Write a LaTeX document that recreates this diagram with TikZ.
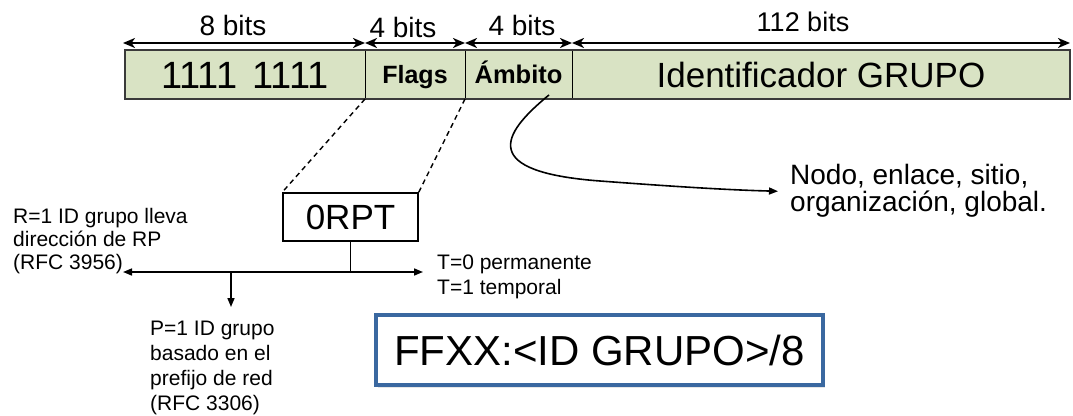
\documentclass[tikz,border=0pt]{standalone}
\usepackage{fontspec}
\setmainfont{Liberation Sans}
\usetikzlibrary{arrows.meta,calc,shadows}

\definecolor{fieldgreen}{HTML}{D9E3C4}
\definecolor{framegray}{HTML}{3A3A3A}
\definecolor{boxblue}{HTML}{3A68A0}

\tikzset{
  field/.style={draw=black, line width=1pt, fill=fieldgreen, minimum height=49pt,
    inner sep=0pt, outer sep=0pt, anchor=center, text depth=0pt},
  barframe/.style={draw=framegray, line width=2.2pt},
  dimline/.style={line width=2.4pt, {Stealth[length=12pt,width=10pt,inset=3.5pt]}-{Stealth[length=12pt,width=10pt,inset=3.5pt]}},
  dimlabel/.style={font=\fontsize{28}{30}\selectfont, inner sep=0pt},
  note/.style={align=left, inner sep=0pt, anchor=north west},
  zoomline/.style={line width=1.4pt, dash pattern=on 5pt off 4pt},
  flagline/.style={line width=1.6pt},
  flagarrow/.style={line width=1.6pt, -{Triangle[length=9pt,width=7pt]}},
}

\begin{document}
\begin{tikzpicture}[x=1pt,y=-1pt]
\useasboundingbox (0,0) rectangle (1073,415);

% address fields
\node[field, minimum width=240pt, text height=27pt, font=\fontsize{38}{42}\selectfont] (f1) at (245,74.5) {1111\hspace{0.4em}1111};
\node[field, minimum width=100pt, text height=18.6pt, font=\bfseries\fontsize{25}{28}\selectfont] (f2) at (415,74.5) {Flags};
\node[field, minimum width=107pt, text height=18.6pt, font=\bfseries\fontsize{25.5}{28}\selectfont] (f3) at (518.5,74.5) {Ámbito};
\node[field, minimum width=498pt, text height=25pt, font=\fontsize{35}{40}\selectfont] (f4) at (821,74.5) {Identificador GRUPO};
\draw[barframe] (f1.north west) rectangle (f4.south east);

% bit widths
\coordinate (d0) at (123,43);
\coordinate (d1) at (365,43);
\coordinate (d2) at (465,43);
\coordinate (d3) at (572,43);
\coordinate (d4) at (1070,43);
\draw[dimline] (d0) -- (d1);
\draw[dimline] (d1) -- (d2);
\draw[dimline] (d2) -- (d3);
\draw[dimline] (d3) -- (d4);
\node[dimlabel] (b1) at (233,25) {8 bits};
\node[dimlabel] (b2) at (403,27) {4 bits};
\node[dimlabel] (b3) at (522,25) {4 bits};
\node[dimlabel, font=\fontsize{27}{30}\selectfont] (b4) at (803,22) {112 bits};

% flag bits
\node[draw=black, line width=1.5pt, minimum width=135pt, minimum height=48pt, inner sep=0pt,
      text height=25pt, text depth=0pt, font=\fontsize{35}{40}\selectfont] (orpt) at (350.5,217) {0RPT};
\draw[zoomline] (f1.south east) -- (orpt.north west);
\draw[zoomline] (f2.south east) -- (orpt.north east);

\coordinate (j) at (350.5,272);
\coordinate (jl) at (123,272);
\coordinate (jr) at (423,272);
\coordinate (jp) at (231,272);
\coordinate (jpd) at (231,307);
\draw[flagline] (orpt.south) -- (j);
\draw[flagarrow] (j) -- (jl);
\draw[flagarrow] (j) -- (jr);
\draw[flagarrow] (jp) -- (jpd);

\node[note, font=\fontsize{21}{23}\selectfont] (rtext) at (13,208.5)
  {R=1 ID grupo lleva\\dirección de RP\\(RFC 3956)};
\node[note, font=\fontsize{21}{25}\selectfont] (ptext) at (150,320.5)
  {P=1 ID grupo\\basado en el\\prefijo de red\\(RFC 3306)};
\node[note, font=\fontsize{21}{25}\selectfont] (ttext) at (437,254.5)
  {T=0 permanente\\T=1 temporal};

% scope values
\coordinate (amb) at (549,95);
\node[note, inner xsep=12pt, inner ysep=0pt, font=\fontsize{28}{27}\selectfont] (scopes) at (778,164.5)
  {Nodo, enlace, sitio,\\organización, global.};
\draw[flagarrow] (amb) .. controls (500,135) and (480,172) .. (600,181)
  .. controls (680,187) and (730,190) .. (scopes.west);

% address prefix
\node[draw=boxblue, line width=4pt, fill=white, minimum width=447pt, minimum height=70pt, inner sep=0pt,
      text height=30pt, text depth=0pt, font=\fontsize{42}{46}\selectfont,
      drop shadow={opacity=0.2, shadow xshift=2pt, shadow yshift=-3pt}] (ffxx) at (599.5,350)
  {FFXX:<ID GRUPO>/8};
\end{tikzpicture}
\end{document}
